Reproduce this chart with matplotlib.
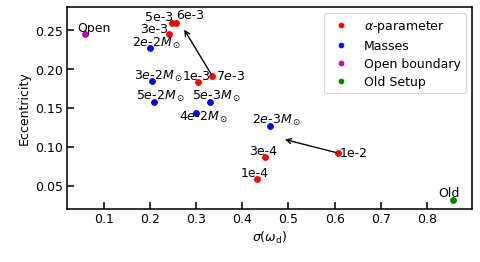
import matplotlib
matplotlib.use("Agg")
import matplotlib.pyplot as plt

plt.rcParams["font.size"] = 12

# alpha-parameter runs
alpha_x = [0.247, 0.256, 0.242, 0.304, 0.3355, 0.449, 0.4315, 0.607]
alpha_y = [0.2586, 0.2595, 0.2453, 0.183, 0.1907, 0.0863, 0.058, 0.092]
alpha_lab = ["5e-3", "6e-3", "3e-3", "1e-3", "7$e$-3", "3e-4", "1e-4", "1e-2"]
alpha_off = [(-26.7, 3.3), (0.7, 4), (-29, 1.5), (-15, 2.7), (3.3, -3.3),
             (-15.7, 2.7), (-15.7, 3), (2, -3.3)]

# mass runs
mass_x = [0.2005, 0.2055, 0.209, 0.331, 0.2995, 0.461]
mass_y = [0.2268, 0.1848, 0.157, 0.157, 0.1435, 0.1272]
mass_lab = [r"2$e$-2$M_\odot$", r"3$e$-2$M_\odot$", r"5$e$-2$M_\odot$",
            r"5$e$-3$M_\odot$", r"4$e$-2$M_\odot$", r"2$e$-3$M_\odot$"]
mass_off = [(-17.6, 2.2), (-18.4, 1.3), (-18.3, 2.7), (-18, 2.7),
            (-16.7, -7.4), (-18, 2.7)]

open_x, open_y = [0.059], [0.245]
old_x, old_y = [0.857], [0.0314]

fig = plt.figure(figsize=(6.4, 3.5), dpi=75)
ax = fig.add_axes([0.139, 0.202, 0.844, 0.770])

ax.plot(alpha_x, alpha_y, "o", color="r", ms=5.5, ls="none", label=r"$\alpha$-parameter")
ax.plot(mass_x, mass_y, "o", color="b", ms=5.5, ls="none", label="Masses")
ax.plot(open_x, open_y, "o", color="m", ms=5.5, ls="none", label="Open boundary")
ax.plot(old_x, old_y, "o", color="g", ms=5.5, ls="none", label="Old Setup")

for x, y, s, (dx, dy) in zip(alpha_x, alpha_y, alpha_lab, alpha_off):
    ax.annotate(s, (x, y), xytext=(dx, dy), textcoords="offset pixels",
                ha="left", va="baseline")
for x, y, s, (dx, dy) in zip(mass_x, mass_y, mass_lab, mass_off):
    ax.annotate(s, (x, y), xytext=(dx, dy), textcoords="offset pixels",
                ha="left", va="baseline")
ax.annotate("Open", (open_x[0], open_y[0]), xytext=(-7.7, 2.7),
            textcoords="offset pixels", ha="left", va="baseline")
ax.annotate("Old", (old_x[0], old_y[0]), xytext=(-15.6, 3.6),
            textcoords="offset pixels", ha="left", va="baseline")

# arrows
ax.annotate("", xy=(0.272, 0.253), xytext=(0.3355, 0.1907),
            arrowprops=dict(arrowstyle="->", color="k", lw=1.3))
ax.annotate("", xy=(0.488, 0.110), xytext=(0.607, 0.092),
            arrowprops=dict(arrowstyle="->", color="k", lw=1.3))

ax.set_xlim(0.02, 0.897)
ax.set_ylim(0.02, 0.28)
ax.set_xticks([0.1, 0.2, 0.3, 0.4, 0.5, 0.6, 0.7, 0.8])
ax.set_yticks([0.05, 0.10, 0.15, 0.20, 0.25])
ax.tick_params(direction="in", length=7, width=1.5)
for sp in ax.spines.values():
    sp.set_linewidth(1.5)
ax.set_xlabel(r"$\sigma(\omega_\mathrm{d})$")
ax.set_ylabel("Eccentricity")
ax.legend(loc="upper right", markerscale=0.8, labelspacing=0.4)

fig.savefig("out.png", dpi=75)
